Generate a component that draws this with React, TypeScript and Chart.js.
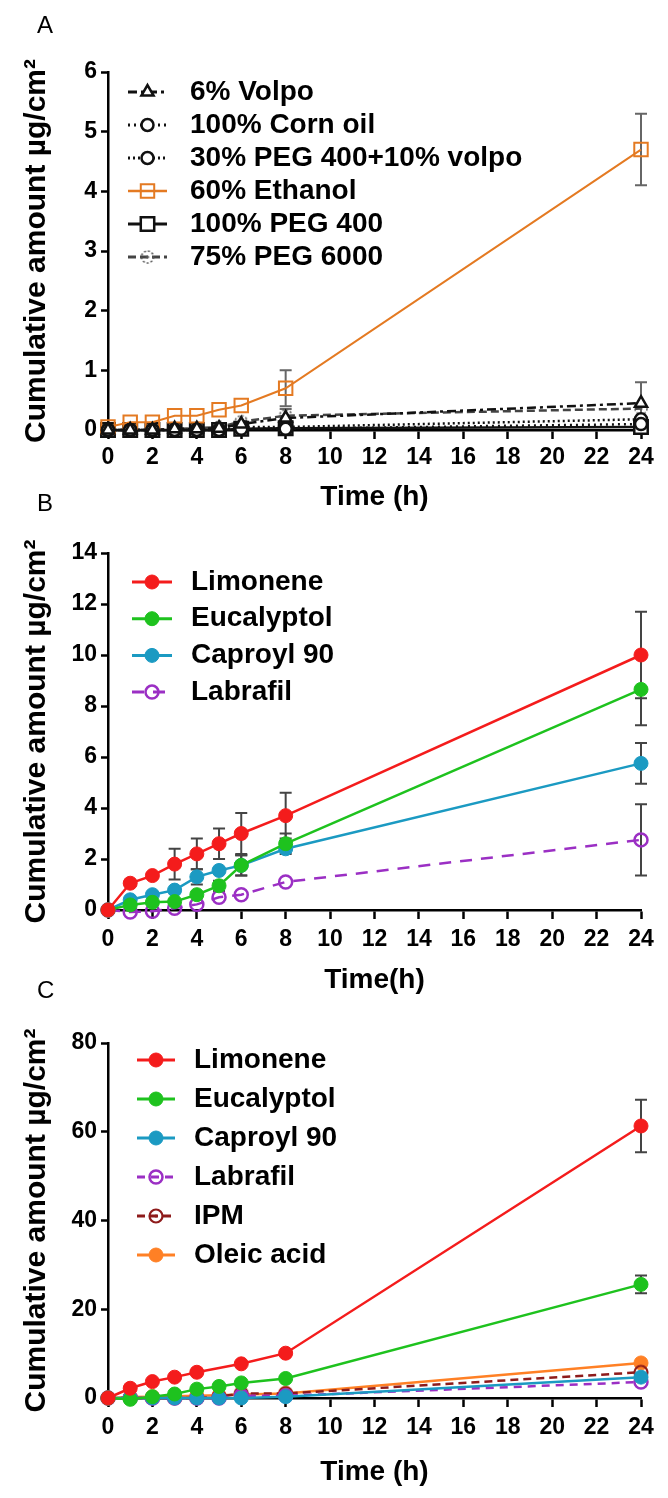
import React, { useEffect, useRef } from "react";
import { Chart, registerables } from "chart.js";

Chart.register(...registerables);

const FONT = '"Liberation Sans", Arial, Helvetica, sans-serif';

// ---------------- DATA ----------------
const times = [0, 1, 2, 3, 4, 5, 6, 8, 24];
const yTitle = "Cumulative amount \u00b5g/cm\u00b2";

// Panel A
const aLabels = [
  "6% Volpo",
  "100% Corn oil",
  "30% PEG 400+10% volpo",
  "60% Ethanol",
  "100% PEG 400",
  "75% PEG 6000",
];
const aVolpo = [0, 0, 0, 0.02, 0.02, 0.03, 0.1, 0.2, 0.45];
const aCornOil = [0, 0, 0, 0, 0, 0, 0.02, 0.02, 0.1];
const aPeg400Volpo = [0, 0, 0, 0, 0, 0, 0.05, 0.05, 0.18];
const aEthanol = [0.05, 0.13, 0.13, 0.24, 0.24, 0.34, 0.41, 0.7, 4.7];
const aPeg400 = [0, 0, 0, 0, 0, 0, 0.02, 0.03, 0.05];
const aPeg6000 = [0, 0, 0, 0.02, 0.03, 0.05, 0.14, 0.24, 0.36];
const aVolpoErr = [null, null, null, null, null, null, null, 0.15, 0.35];
const aEthanolErr = [null, null, null, null, null, null, null, 0.3, 0.6];
const aPeg400Err = [null, null, null, null, null, null, null, null, null];

// Panel B
const bLabels = ["Limonene", "Eucalyptol", "Caproyl 90", "Labrafil"];
const bLimonene = [0, 1.05, 1.35, 1.8, 2.2, 2.6, 3.0, 3.7, 10.0];
const bEucalyptol = [0, 0.2, 0.3, 0.33, 0.6, 0.95, 1.75, 2.6, 8.65];
const bCaproyl = [0, 0.4, 0.6, 0.78, 1.3, 1.55, 1.75, 2.4, 5.75];
const bLabrafil = [0, -0.08, -0.05, 0.07, 0.22, 0.5, 0.6, 1.1, 2.75];
const bLimoneneErr = [null, 0.1, 0.1, 0.6, 0.6, 0.6, 0.8, 0.9, 1.7];
const bEucalyptolErr = [null, null, null, null, null, 0.2, 0.4, 0.4, 1.4];
const bCaproylErr = [null, null, null, null, 0.3, null, 0.4, null, 0.8];
const bLabrafilErr = [null, null, null, null, null, null, null, null, 1.4];

// Panel C
const cLabels = ["Limonene", "Eucalyptol", "Caproyl 90", "Labrafil", "IPM", "Oleic acid"];
const cLimonene = [0, 2.2, 3.7, 4.7, 5.8, null, 7.7, 10.1, 61.3];
const cEucalyptol = [0, -0.3, 0.3, 0.9, 2.0, 2.6, 3.4, 4.4, 25.6];
const cCaproyl = [0, 0, 0, 0, 0, 0, 0, 0.3, 4.7];
const cLabrafil = [0, 0, 0, 0, 0, 0, 0.5, 0.5, 3.6];
const cIPM = [0, 0, 0, 0, 0, 0.3, 1.0, 1.0, 5.8];
const cOleic = [0, 0.2, 0.3, 0.4, 0.5, 0.6, 0.8, 1.0, 7.9];
const cLimoneneErr = [null, null, null, null, null, null, null, null, 5.9];
const cEucalyptolErr = [null, null, null, null, null, null, null, null, 2.0];

// ---------------- HELPERS ----------------
const pts = (vals: (number | null)[]) => times.map((t, i) => ({ x: t, y: vals[i] }));

function ringDot(color: string, r: number, lw: number, dotted: boolean) {
  const c = document.createElement("canvas");
  const s = Math.ceil(2 * r + lw + 4);
  c.width = s;
  c.height = s;
  const g = c.getContext("2d")!;
  g.strokeStyle = color;
  g.lineWidth = lw;
  if (dotted) g.setLineDash([2, 2]);
  g.beginPath();
  g.arc(s / 2, s / 2, r, 0, Math.PI * 2);
  g.stroke();
  g.setLineDash([]);
  g.fillStyle = color;
  g.beginPath();
  g.arc(s / 2, s / 2, 1.6, 0, Math.PI * 2);
  g.fill();
  return c;
}

function drawMarker(ctx: CanvasRenderingContext2D, style: any, x: number, y: number, r: number, fill: string, stroke: string, lw: number) {
  if (style && typeof style === "object") {
    ctx.drawImage(style, x - style.width / 2, y - style.height / 2);
    return;
  }
  ctx.save();
  ctx.setLineDash([]);
  ctx.lineWidth = lw;
  ctx.strokeStyle = stroke;
  ctx.fillStyle = fill;
  ctx.beginPath();
  if (style === "rect") {
    const h = r * Math.SQRT1_2;
    ctx.rect(x - h, y - h, 2 * h, 2 * h);
  } else if (style === "triangle") {
    let a = 0;
    ctx.moveTo(x + Math.sin(a) * r, y - Math.cos(a) * r);
    a += (2 * Math.PI) / 3;
    ctx.lineTo(x + Math.sin(a) * r, y - Math.cos(a) * r);
    a += (2 * Math.PI) / 3;
    ctx.lineTo(x + Math.sin(a) * r, y - Math.cos(a) * r);
    ctx.closePath();
  } else {
    ctx.arc(x, y, r, 0, Math.PI * 2);
  }
  ctx.fill();
  if (lw > 0) ctx.stroke();
  ctx.restore();
}

function makeErrorPlugin(errors: ((number | null)[] | null)[], color: string) {
  return {
    id: "errorBars",
    beforeDatasetsDraw(chart: any) {
      const ctx = chart.ctx;
      const xs = chart.scales.x;
      const ys = chart.scales.y;
      ctx.save();
      ctx.strokeStyle = color;
      ctx.lineWidth = 2;
      ctx.setLineDash([]);
      chart.data.datasets.forEach((ds: any, i: number) => {
        const e = errors[i];
        if (!e) return;
        ds.data.forEach((p: any, j: number) => {
          const err = e[j];
          if (err == null || p.y == null) return;
          const x = xs.getPixelForValue(p.x);
          const y1 = ys.getPixelForValue(p.y + err);
          const y2 = ys.getPixelForValue(p.y - err);
          ctx.beginPath();
          ctx.moveTo(x, y1);
          ctx.lineTo(x, y2);
          ctx.moveTo(x - 6, y1);
          ctx.lineTo(x + 6, y1);
          ctx.moveTo(x - 6, y2);
          ctx.lineTo(x + 6, y2);
          ctx.stroke();
        });
      });
      ctx.restore();
    },
  };
}

function makeLegendPlugin(cfg: any, canvasTop: number) {
  return {
    id: "customLegend",
    afterDraw(chart: any) {
      const ctx = chart.ctx;
      chart.data.datasets.forEach((ds: any, i: number) => {
        const y = cfg.y0 + i * cfg.dy - canvasTop;
        ctx.save();
        ctx.strokeStyle = ds.borderColor;
        ctx.lineWidth = ds.borderWidth + 0.5;
        ctx.setLineDash(ds.borderDash || []);
        ctx.beginPath();
        ctx.moveTo(cfg.x0, y);
        ctx.lineTo(cfg.x1, y);
        ctx.stroke();
        ctx.restore();
        drawMarker(ctx, ds.pointStyle, (cfg.x0 + cfg.x1) / 2, y, ds.pointRadius, ds.pointBackgroundColor, ds.pointBorderColor, ds.pointBorderWidth);
        ctx.save();
        ctx.fillStyle = "#000";
        ctx.font = `bold 28px ${FONT}`;
        ctx.textBaseline = "middle";
        ctx.textAlign = "left";
        ctx.fillText(ds.label, cfg.textX, y);
        ctx.restore();
      });
    },
  };
}

function line(label: string, vals: (number | null)[], color: string, opts: any) {
  return {
    label,
    data: pts(vals),
    borderColor: color,
    borderWidth: 2.5,
    pointBorderColor: color,
    pointBackgroundColor: color,
    pointRadius: 7,
    pointBorderWidth: 1,
    pointStyle: "circle",
    spanGaps: true,
    clip: false,
    tension: 0,
    ...opts,
  };
}

// ---------------- PANEL ----------------
type PanelCfg = {
  canvasTop: number;
  height: number;
  areaTop: number;
  areaBottom: number;
  areaLeft: number;
  areaRight: number;
  yMax: number;
  yStep: number;
  xLabelCenter: number;
  xTitleCenter: number;
  xTitle: string;
  legend: any;
  makeDatasets: () => any[];
  errors: ((number | null)[] | null)[];
  errColor: string;
};

function Panel({ cfg }: { cfg: PanelCfg }) {
  const ref = useRef<HTMLCanvasElement>(null);
  useEffect(() => {
    if (!ref.current) return;
    const xScaleHeight = cfg.canvasTop + cfg.height - cfg.areaBottom;
    const tickFont = 23;
    const tickPad = cfg.xLabelCenter - cfg.areaBottom - 9 - (tickFont * 1.2) / 2;
    const titlePad = cfg.canvasTop + cfg.height - 14 - cfg.xTitleCenter;
    const chart = new Chart(ref.current, {
      type: "line",
      data: { datasets: cfg.makeDatasets() },
      options: {
        animation: false,
        responsive: false,
        devicePixelRatio: 1,
        layout: {
          padding: { top: cfg.areaTop - cfg.canvasTop, right: 668 - cfg.areaRight, bottom: 0, left: 0 },
        },
        plugins: { legend: { display: false }, tooltip: { enabled: false } },
        scales: {
          x: {
            type: "linear",
            min: 0,
            max: 24,
            afterFit: (s: any) => {
              s.height = xScaleHeight;
            },
            ticks: {
              stepSize: 2,
              color: "#000",
              padding: tickPad,
              font: { family: FONT, size: tickFont, weight: "bold" },
            },
            grid: {
              drawOnChartArea: false,
              drawTicks: true,
              tickLength: 9,
              tickColor: "#000",
              tickWidth: 2.5,
            },
            border: { display: true, color: "#000", width: 2.5 },
            title: {
              display: true,
              text: cfg.xTitle,
              color: "#000",
              font: { family: FONT, size: 28, weight: "bold", lineHeight: 1 },
              padding: { top: 0, bottom: titlePad },
            },
          },
          y: {
            type: "linear",
            min: 0,
            max: cfg.yMax,
            afterFit: (s: any) => {
              s.width = cfg.areaLeft;
            },
            ticks: {
              stepSize: cfg.yStep,
              color: "#000",
              padding: 4,
              font: { family: FONT, size: tickFont, weight: "bold" },
            },
            grid: {
              drawOnChartArea: false,
              drawTicks: true,
              tickLength: 7,
              tickColor: "#000",
              tickWidth: 2.5,
            },
            border: { display: true, color: "#000", width: 2.5 },
            title: {
              display: true,
              text: yTitle,
              color: "#000",
              font: { family: FONT, size: 30, weight: "bold", lineHeight: 1 },
              padding: { top: 22, bottom: 0 },
            },
          },
        },
      },
      plugins: [makeErrorPlugin(cfg.errors, cfg.errColor), makeLegendPlugin(cfg.legend, cfg.canvasTop)],
    } as any);
    return () => chart.destroy();
  }, [cfg]);
  return (
    <canvas
      ref={ref}
      width={668}
      height={cfg.height}
      style={{ position: "absolute", left: 0, top: cfg.canvasTop, width: 668, height: cfg.height }}
    />
  );
}

const BLACK = "#111111";
const ORANGE_A = "#e47a22";
const RED = "#f41c1c";
const GREEN = "#1ec21e";
const TEAL = "#1b9ac2";
const PURPLE = "#9b2fc4";
const DARKRED = "#8e1b1b";
const ORANGE_C = "#ff8025";

const panelA: PanelCfg = {
  canvasTop: 0,
  height: 525,
  areaTop: 72,
  areaBottom: 430,
  areaLeft: 108,
  areaRight: 641,
  yMax: 6,
  yStep: 1,
  xLabelCenter: 458,
  xTitleCenter: 497,
  xTitle: "Time (h)",
  legend: { x0: 128, x1: 167, textX: 190, y0: 92, dy: 33 },
  errors: [aVolpoErr, null, null, aEthanolErr, aPeg400Err, null],
  errColor: "#666",
  makeDatasets: () => [
    line(aLabels[0], aVolpo, BLACK, { borderDash: [9, 4, 3, 4], pointStyle: "triangle", pointRadius: 7, pointBackgroundColor: "#fff", pointBorderWidth: 2.5 }),
    line(aLabels[1], aCornOil, BLACK, { borderDash: [2, 4], pointRadius: 6, pointBackgroundColor: "#fff", pointBorderWidth: 2.5 }),
    line(aLabels[2], aPeg400Volpo, BLACK, { borderDash: [2, 3], pointRadius: 6, pointBackgroundColor: "#fff", pointBorderWidth: 2.5 }),
    line(aLabels[3], aEthanol, ORANGE_A, { borderWidth: 2, pointStyle: "rect", pointRadius: 9.5, pointBackgroundColor: "rgba(0,0,0,0)", pointBorderWidth: 2 }),
    line(aLabels[4], aPeg400, BLACK, { borderWidth: 2.5, pointStyle: "rect", pointRadius: 9.5, pointBackgroundColor: "#fff", pointBorderWidth: 2.5 }),
    line(aLabels[5], aPeg6000, "#444", { borderDash: [8, 4], borderWidth: 2.5, pointStyle: ringDot("#555", 6, 1.5, true), pointRadius: 7 }),
  ],
};

const panelB: PanelCfg = {
  canvasTop: 490,
  height: 510,
  areaTop: 553,
  areaBottom: 910,
  areaLeft: 108,
  areaRight: 641,
  yMax: 14,
  yStep: 2,
  xLabelCenter: 940,
  xTitleCenter: 980,
  xTitle: "Time(h)",
  legend: { x0: 132, x1: 172, textX: 191, y0: 582, dy: 36.7 },
  errors: [bLimoneneErr, bEucalyptolErr, bCaproylErr, bLabrafilErr],
  errColor: "#444",
  makeDatasets: () => [
    line(bLabels[0], bLimonene, RED, {}),
    line(bLabels[1], bEucalyptol, GREEN, {}),
    line(bLabels[2], bCaproyl, TEAL, {}),
    line(bLabels[3], bLabrafil, PURPLE, { borderDash: [12, 9], pointRadius: 6.5, pointBackgroundColor: "rgba(0,0,0,0)", pointBorderWidth: 2.5 }),
  ],
};

const panelC: PanelCfg = {
  canvasTop: 985,
  height: 513,
  areaTop: 1043,
  areaBottom: 1398,
  areaLeft: 108,
  areaRight: 641,
  yMax: 80,
  yStep: 20,
  xLabelCenter: 1428,
  xTitleCenter: 1472,
  xTitle: "Time (h)",
  legend: { x0: 137, x1: 175, textX: 194, y0: 1060, dy: 39 },
  errors: [cLimoneneErr, cEucalyptolErr, null, null, null, null],
  errColor: "#444",
  makeDatasets: () => [
    line(cLabels[0], cLimonene, RED, {}),
    line(cLabels[1], cEucalyptol, GREEN, {}),
    line(cLabels[2], cCaproyl, TEAL, {}),
    line(cLabels[3], cLabrafil, PURPLE, { borderDash: [8, 6], pointRadius: 6.5, pointBackgroundColor: "rgba(0,0,0,0)", pointBorderWidth: 2.5 }),
    line(cLabels[4], cIPM, DARKRED, { borderDash: [8, 5], pointStyle: ringDot(DARKRED, 6.5, 2.2, false), pointRadius: 7 }),
    line(cLabels[5], cOleic, ORANGE_C, {}),
  ],
};

const labelStyle = (top: number): React.CSSProperties => ({
  position: "absolute",
  left: 37,
  top,
  fontFamily: FONT,
  fontSize: 24,
  lineHeight: "24px",
  color: "#000",
});

export default function App() {
  return (
    <div style={{ position: "absolute", left: 0, top: 0, width: 668, height: 1498, overflow: "hidden", background: "#fff" }}>
      <Panel cfg={panelA} />
      <Panel cfg={panelB} />
      <Panel cfg={panelC} />
      <div style={labelStyle(13)}>A</div>
      <div style={labelStyle(491)}>B</div>
      <div style={labelStyle(978)}>C</div>
    </div>
  );
}
